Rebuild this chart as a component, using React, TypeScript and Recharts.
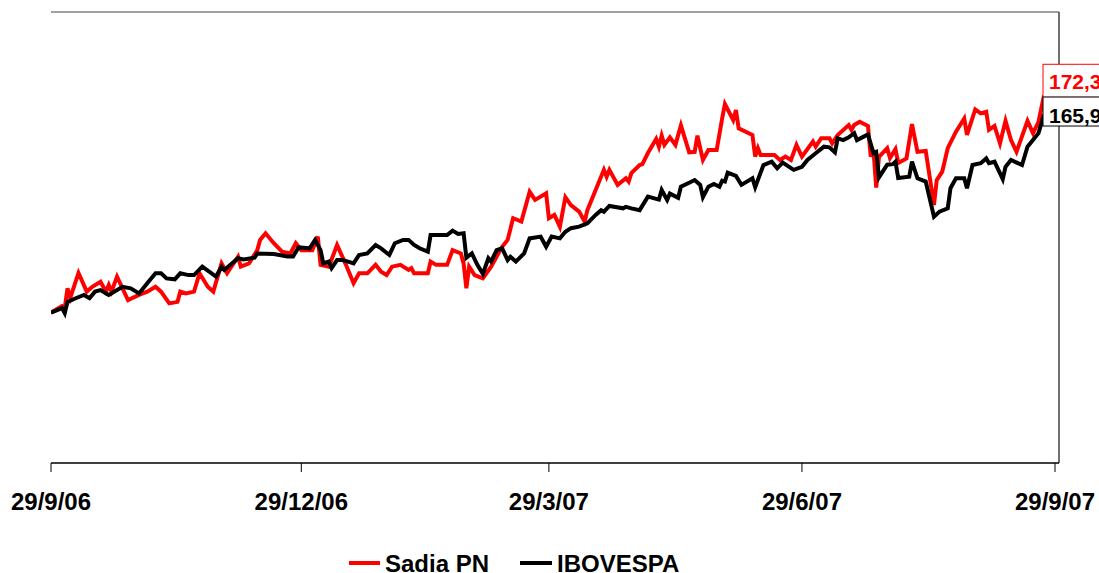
import React from 'react'
import {
  Legend,
  LabelList,
  Line,
  LineChart,
  ReferenceLine,
  XAxis,
  YAxis,
} from 'recharts'

// day offsets from 29/9/06
const sadiaDays = [
  0, 4, 5, 6, 7, 10, 13, 15, 18, 20, 21, 22, 24, 28, 32, 35, 38, 40, 43, 46,
  47, 49, 52, 54, 57, 59, 62, 64, 68, 69, 72, 75, 76, 78, 81, 84, 87, 89, 91, 95,
  97, 98, 101, 104, 107, 110, 112, 115, 118, 120, 122, 124, 127, 130, 131, 132, 137, 138, 140, 144,
  146, 149, 150, 151, 152, 154, 157, 160, 163, 164, 166, 168, 171, 174, 176, 180, 181, 183, 185, 187,
  189, 192, 194, 195, 198, 201, 202, 203, 206, 209, 210, 211, 214, 215, 217, 220, 221, 222, 223, 225,
  227, 229, 232, 234, 235, 237, 239, 242, 244, 245, 248, 249, 250, 255, 256, 257, 258, 263, 265, 267,
  269, 271, 273, 277, 278, 280, 283, 284, 286, 290, 291, 292, 294, 297, 298, 299, 300, 301, 304, 305,
  307, 308, 311, 313, 315, 318, 321, 322, 324, 326, 329, 332, 333, 336, 338, 340, 341, 343, 345, 347,
  349, 351, 355, 357, 359, 361,
]
const sadiaValues = [
  100, 102.2, 101.6, 108.1, 104.9, 113.2, 107.0, 108.6, 110.3, 107.0, 109.2, 107.0, 112.0, 104.2, 105.9, 107.0, 108.6, 107.0, 103.1, 103.6,
  107.0, 106.4, 107.0, 113.1, 108.6, 107.0, 116.4, 113.1, 118.6, 115.3, 116.4, 120.8, 124.2, 126.4, 123.1, 120.3, 119.7, 123.1, 120.8, 120.8,
  125.3, 115.9, 115.3, 122.5, 116.4, 109.8, 113.1, 113.1, 115.9, 113.6, 112.5, 115.3, 115.9, 114.2, 114.8, 113.1, 113.1, 117.0, 115.9, 115.9,
  120.8, 119.7, 116.4, 108.1, 115.3, 112.5, 111.4, 115.3, 120.3, 121.9, 124.2, 131.4, 130.3, 140.2, 137.5, 139.7, 131.4, 132.5, 128.6, 138.4,
  135.8, 133.6, 130.3, 134.1, 140.8, 147.5, 145.2, 147.5, 142.5, 144.7, 143.6, 146.4, 149.1, 149.4, 153.1, 157.8, 155.2, 158.9, 155.8, 158.3,
  155.8, 162.3, 153.3, 153.5, 158.9, 150.8, 154.1, 154.1, 164.6, 169.4, 164.1, 167.4, 161.3, 159.1, 151.9, 154.7, 152.4, 152.4, 150.8, 151.9,
  150.8, 155.8, 151.9, 156.9, 155.2, 158.0, 158.0, 156.3, 159.1, 162.4, 160.8, 162.4, 163.5, 162.1, 151.9, 154.1, 141.6, 151.8, 154.7, 151.4,
  154.4, 149.8, 151.3, 162.7, 153.5, 153.8, 135.8, 144.1, 146.9, 154.7, 160.2, 164.6, 159.1, 167.6, 166.3, 166.8, 160.8, 162.1, 156.3, 163.8,
  157.4, 153.5, 163.8, 159.7, 163.5, 172.3,
]

const ibovDays = [
  0, 4, 5, 6, 9, 12, 14, 16, 18, 20, 21, 26, 29, 32, 35, 38, 40, 42, 45, 47,
  50, 52, 55, 60, 62, 63, 68, 70, 74, 75, 81, 86, 88, 90, 94, 96, 98, 99, 101, 102,
  104, 106, 108, 110, 112, 115, 118, 120, 123, 125, 128, 130, 132, 134, 137, 138, 144, 146, 148, 150,
  151, 153, 155, 157, 159, 160, 162, 164, 166, 167, 169, 172, 174, 178, 180, 182, 185, 187, 189, 192,
  195, 198, 200, 201, 203, 208, 209, 211, 214, 217, 221, 222, 224, 225, 228, 229, 232, 234, 236, 237,
  239, 241, 243, 244, 245, 246, 249, 251, 255, 256, 259, 262, 264, 266, 270, 273, 275, 278, 281, 283,
  285, 286, 288, 290, 292, 293, 297, 299, 300, 301, 304, 306, 307, 308, 312, 313, 315, 318, 321, 323,
  326, 327, 329, 332, 333, 335, 338, 340, 341, 343, 346, 347, 349, 353, 355, 357, 359, 361,
]
const ibovValues = [
  100, 101.5, 99.8, 103.6, 104.8, 105.9, 104.8, 107.0, 107.5, 106.4, 105.9, 108.6, 108.1, 106.4, 109.8, 113.1, 113.1, 111.4, 111.1, 113.1,
  112.5, 112.5, 115.3, 112.0, 115.3, 114.2, 118.1, 117.7, 118.3, 119.7, 119.5, 118.7, 118.7, 121.7, 121.4, 124.2, 120.8, 116.4, 117.0, 114.8,
  117.5, 117.5, 117.0, 116.4, 119.2, 119.7, 122.5, 121.4, 119.2, 123.1, 124.2, 124.2, 122.5, 121.4, 120.3, 125.8, 125.8, 127.3, 126.2, 126.4,
  118.3, 119.7, 115.9, 112.9, 118.1, 117.0, 120.8, 121.4, 117.5, 118.6, 117.0, 119.7, 124.7, 125.3, 121.9, 125.3, 124.7, 126.9, 128.1, 128.6,
  129.7, 132.5, 134.1, 133.6, 135.5, 134.7, 135.2, 134.7, 134.1, 138.6, 137.6, 140.8, 137.5, 139.6, 138.2, 141.9, 143.2, 144.1, 142.5, 138.4,
  141.9, 142.8, 141.9, 143.9, 143.6, 146.6, 145.5, 142.5, 144.7, 141.7, 149.1, 150.2, 148.0, 149.9, 147.5, 148.5, 150.8, 153.0, 155.2, 155.0,
  153.3, 158.0, 157.4, 158.3, 159.7, 157.4, 159.3, 153.1, 153.5, 145.0, 149.2, 149.4, 150.2, 144.8, 145.2, 150.2, 144.7, 143.6, 131.9, 133.6,
  134.7, 141.4, 144.7, 144.7, 141.4, 149.1, 149.7, 151.3, 149.7, 150.2, 144.4, 148.5, 150.8, 149.1, 155.2, 157.4, 159.7, 165.9,
]

const tickDays = [0, 91, 181, 273, 365]
const tickLabels = ['29/9/06', '29/12/06', '29/3/07', '29/6/07', '29/9/07']

const X_MAX = 366.45
const Y_MIN = 50
const Y_MAX = 200

const sadiaData = sadiaDays.map((d, i) => ({ day: d, v: sadiaValues[i] }))
const ibovData = ibovDays.map((d, i) => ({ day: d, v: ibovValues[i] }))

const FONT = '"Liberation Sans", Arial, sans-serif'

const fmt = (v: number) => v.toFixed(1).replace('.', ',')

function endLabel(color: string, last: number, boxTop: number, boxH: number, baseline: number) {
  return (props: any) => {
    const { x, y, value, index } = props
    if (index !== last) return null
    return (
      <g>
        <rect
          x={x - 1}
          y={y + boxTop}
          width={80}
          height={boxH}
          fill="#fff"
          stroke={color}
          strokeWidth={1}
        />
        <text
          x={x + 5}
          y={y + baseline}
          fill={color}
          fontFamily={FONT}
          fontWeight="bold"
          fontSize={21}
        >
          {fmt(Number(value))}
        </text>
      </g>
    )
  }
}

function ChartLegend() {
  return (
    <svg width={1099} height={40} style={{ display: 'block', overflow: 'visible' }}>
      <line x1={349} x2={380} y1={23} y2={23} stroke="#ff0000" strokeWidth={4} />
      <text x={385} y={32} fontFamily={FONT} fontWeight="bold" fontSize={24} fill="#000">
        Sadia PN
      </text>
      <line x1={520} x2={552} y1={23} y2={23} stroke="#000" strokeWidth={4} />
      <text x={557} y={32} fontFamily={FONT} fontWeight="bold" fontSize={24} fill="#000">
        IBOVESPA
      </text>
    </svg>
  )
}

export default function App() {
  return (
    <div style={{ width: 1099, height: 573, background: '#fff' }}>
      <style>{'body{margin:0}'}</style>
      <LineChart
        width={1099}
        height={573}
        margin={{ top: 12, right: 40, bottom: 70, left: 51 }}
      >
        <XAxis
          dataKey="day"
          type="number"
          domain={[0, X_MAX]}
          ticks={tickDays}
          interval={0}
          tickFormatter={(d: number) => tickLabels[tickDays.indexOf(d)]}
          tick={{ fontSize: 24, fontWeight: 'bold', fill: '#000', fontFamily: FONT }}
          axisLine={{ stroke: '#000', strokeWidth: 1.5 }}
          tickLine={{ stroke: '#000' }}
          tickSize={9}
          tickMargin={21}
          height={40}
          allowDataOverflow
        />
        <YAxis
          type="number"
          domain={[Y_MIN, Y_MAX]}
          tick={false}
          tickLine={false}
          axisLine={{ stroke: '#000', strokeWidth: 1.5 }}
          width={0}
          allowDataOverflow
        />
        {/* plot frame: top and right edges */}
        <ReferenceLine y={Y_MAX} stroke="#808080" strokeWidth={1.5} ifOverflow="visible" />
        <ReferenceLine x={X_MAX} stroke="#404040" strokeWidth={1.5} ifOverflow="visible" />
        <Legend
          layout="horizontal"
          verticalAlign="middle"
          content={() => <ChartLegend />}
          wrapperStyle={{ top: 540, left: 0, width: 1099 }}
        />
        <Line
          data={sadiaData}
          dataKey="v"
          name="Sadia PN"
          type="linear"
          stroke="#ff0000"
          strokeWidth={4}
          dot={false}
          isAnimationActive={false}
        >
          <LabelList
            dataKey="v"
            content={endLabel('#ff0000', sadiaData.length - 1, -31, 33, -6)}
          />
        </Line>
        <Line
          data={ibovData}
          dataKey="v"
          name="IBOVESPA"
          type="linear"
          stroke="#000000"
          strokeWidth={4}
          dot={false}
          isAnimationActive={false}
        >
          <LabelList
            dataKey="v"
            content={endLabel('#000000', ibovData.length - 1, -17.5, 29, 8.2)}
          />
        </Line>
      </LineChart>
    </div>
  )
}
